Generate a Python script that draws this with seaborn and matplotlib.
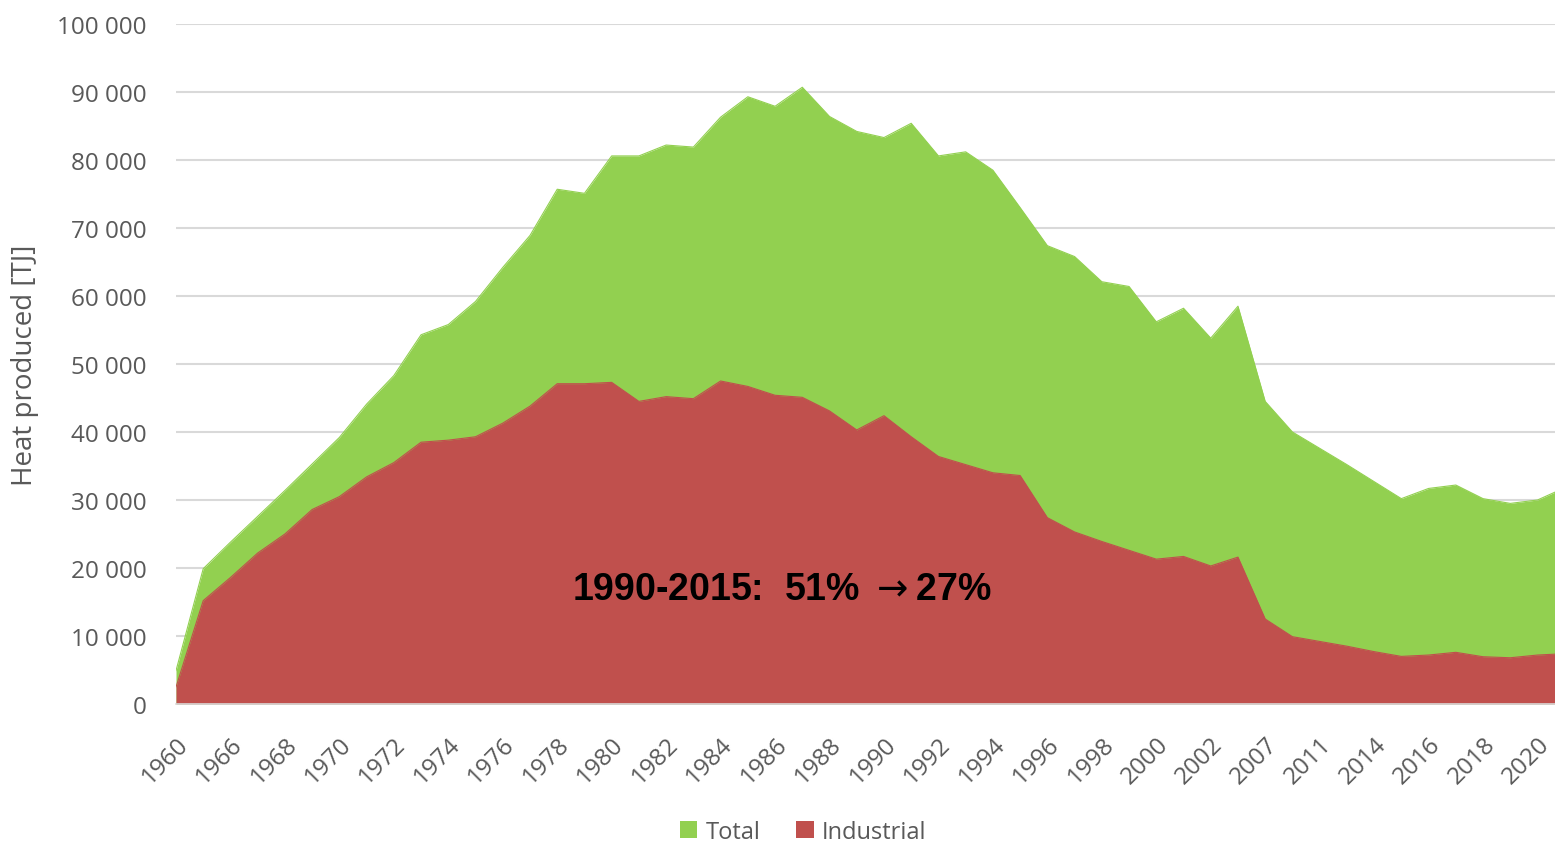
import matplotlib
matplotlib.use("Agg")
import matplotlib.pyplot as plt
import seaborn as sns
import numpy as np
import pandas as pd
from matplotlib.patches import Patch
from matplotlib.ticker import FuncFormatter, MultipleLocator

# ---- data (TJ) ----
years = [1960, 1965] + list(range(1966, 2003)) + [2005, 2007, 2010, 2011, 2013,
                                                   2014, 2015, 2016, 2017, 2018, 2019, 2020, 2021]
total = [4900, 19900, 23800, 27600, 31400, 35300, 39200, 44100, 48300, 54300,
         55800, 59200, 64200, 68900, 75700, 75100, 80600, 80600, 82200, 81900,
         86300, 89300, 87900, 90700, 86400, 84200, 83300, 85400, 80600, 81200,
         78500, 73000, 67400, 65800, 62100, 61400, 56200, 58200, 53800, 58500,
         44500, 40000, 37600, 35200, 32700, 30200, 31700, 32200, 30200, 29500,
         30000, 31800]
industrial = [2500, 15200, 18600, 22200, 25000, 28600, 30500, 33400, 35500, 38500,
              38800, 39300, 41300, 43800, 47100, 47100, 47300, 44500, 45200, 44900,
              47500, 46700, 45400, 45100, 43100, 40300, 42400, 39300, 36400, 35200,
              34000, 33600, 27400, 25300, 23900, 22600, 21300, 21700, 20300, 21600,
              12500, 9900, 9200, 8500, 7700, 7000, 7200, 7600, 6950, 6800,
              7200, 7400]
series_names = ["Total", "Industrial"]
annotation = "1990-2015:  51% $\\rightarrow$27%"
y_label = "Heat produced [TJ]"

df = pd.DataFrame({"pos": np.arange(len(years)), "year": years,
                   "Total": total, "Industrial": industrial})

GREEN = "#92D050"
RED = "#C0504D"
GRID = "#D9D9D9"
TXT = "#595959"

sns.set_theme(style="white")
plt.rcParams["font.family"] = ["Open Sans", "DejaVu Sans"]

W, H = 1555, 845
X0, Y0, YT = 176, 705, 25
AXW = W - X0
fig = plt.figure(figsize=(W / 100, H / 100), dpi=100)
ax = fig.add_axes([X0 / W, 1 - Y0 / H, AXW / W, (Y0 - YT) / H])

for name, col in zip(series_names, [GREEN, RED]):
    ax.fill_between(df["pos"], 0, df[name], color=col, linewidth=0, zorder=2)
    sns.lineplot(data=df, x="pos", y=name, ax=ax, color=col, linewidth=0.8,
                 zorder=3, legend=False)

ax.set_ylim(0, 100000)
ax.set_xlim(0, AXW / 27.23)
ax.yaxis.set_major_locator(MultipleLocator(10000))
ax.yaxis.set_major_formatter(FuncFormatter(lambda v, p: f"{int(v):,}".replace(",", " ")))
ax.grid(axis="y", color=GRID, linewidth=1.5, zorder=0)
ax.set_axisbelow(True)

ax.set_xticks(df["pos"][::2][:26])
ax.set_xticklabels([str(y) for y in years[::2][:26]], rotation=45, ha="right",
                   rotation_mode="anchor", fontsize=17.5, color=TXT)
ax.tick_params(axis="x", length=0, pad=20)
ax.tick_params(axis="y", length=0, pad=21, labelsize=17.5, labelcolor=TXT)

for s in ["top", "right", "left"]:
    ax.spines[s].set_visible(False)
ax.spines["bottom"].set_color(GRID)
ax.spines["bottom"].set_linewidth(1.2)

ax.set_xlabel("")
ax.set_ylabel(y_label, fontsize=20, color=TXT)
ax.yaxis.set_label_coords((39 - X0) / AXW, 0.5)

ax.text((782 - X0) / 27.23, (Y0 - 590) / 6.8 * 1000, annotation, fontsize=27,
        fontweight="bold", family=["Liberation Sans", "DejaVu Sans"], color="black",
        ha="center", va="center", zorder=5)

handles = [Patch(facecolor=GREEN, edgecolor="none", label=series_names[0]),
           Patch(facecolor=RED, edgecolor="none", label=series_names[1])]
leg = fig.legend(handles=handles, loc="center", bbox_to_anchor=(803 / W, 1 - 833 / H),
                 ncol=2, frameon=False, fontsize=17, handlelength=0.75, handleheight=0.75,
                 handletextpad=0.35, columnspacing=1.5)
for t in leg.get_texts():
    t.set_color(TXT)

fig.savefig("out.png", dpi=100)
